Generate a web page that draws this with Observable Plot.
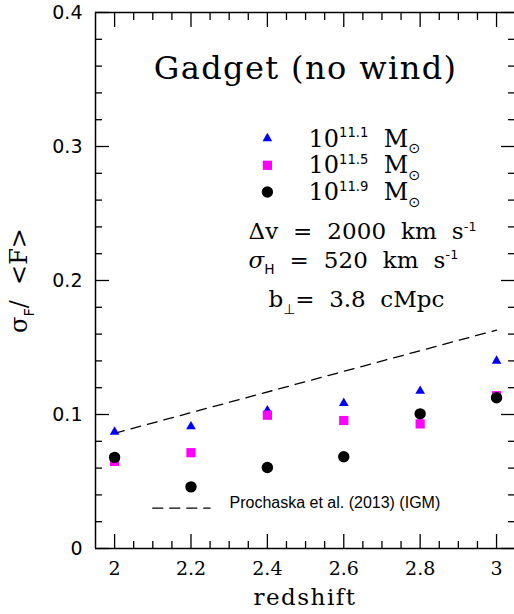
<!DOCTYPE html>
<html><head><meta charset="utf-8">
<script src="https://cdn.jsdelivr.net/npm/d3@7"></script>
<script src="https://cdn.jsdelivr.net/npm/@observablehq/plot@0.6"></script>
<style>
body{margin:0;background:#fff;}
svg text{white-space:pre;}
</style>
</head><body><div id="chart"></div>
<script>
// ---- data ----
const redshift = [2, 2.2, 2.4, 2.6, 2.8, 3];
const sigma111 = [0.087, 0.091, 0.103, 0.1085, 0.1175, 0.140];
const sigma115 = [0.065, 0.0715, 0.0995, 0.0955, 0.093, 0.114];
const sigma119 = [0.068, 0.046, 0.0605, 0.0685, 0.1005, 0.1125];
const seriesNames = ["10^{11.1}  M_{⊙}", "10^{11.5}  M_{⊙}", "10^{11.9}  M_{⊙}"];
const seriesColors = ["#0000ff", "#ff00ff", "#000000"];
const seriesSymbols = ["triangle", "square", "circle"];
const seriesRadius = [3.6, 5.2, 5.7];
const prochaskaZ = [2, 3];
const prochaskaSigma = [0.086, 0.163];
const prochaskaLabel = "Prochaska et al. (2013) (IGM)";
const xMajorTicks = [2, 2.2, 2.4, 2.6, 2.8, 3];
const xTickLabels = ["2", "2.2", "2.4", "2.6", "2.8", "3"];
const xMinorTicks = [2.05,2.1,2.15,2.25,2.3,2.35,2.45,2.5,2.55,2.65,2.7,2.75,2.85,2.9,2.95];
const yMajorTicks = [0, 0.1, 0.2, 0.3, 0.4];
const yTickLabels = ["0", "0.1", "0.2", "0.3", "0.4"];
const yMinorTicks = [0.02,0.04,0.06,0.08,0.12,0.14,0.16,0.18,0.22,0.24,0.26,0.28,0.32,0.34,0.36,0.38];
const titleText = "Gadget (no wind)";
const infoLines = ["Δv  =  2000  km  s^{-1}", "~{σ}_{H}  =  520  km  s^{-1}"];
const impactText = "b_{⊥}=  3.8  cMpc";
const xLabel = "redshift";
const yLabel = "σ_{F}/  <F>";

const series = [sigma111, sigma115, sigma119].map((vals, k) =>
  redshift.map((z, i) => ({z, s: vals[i], k})));
const prochaska = prochaskaZ.map((z, i) => ({z, s: prochaskaSigma[i]}));

const SERIF = "'DejaVu Serif', serif";
const SANS = "'DejaVu Sans', sans-serif";
const tickStyle = {stroke: "black", strokeWidth: 1.3, label: null};

const marks = [
  // frame
  Plot.ruleY([0, 0.4], {stroke: "black", strokeWidth: 1.5}),
  Plot.ruleX([1.95], {stroke: "black", strokeWidth: 1.5}),
  // inward ticks
  ...["bottom", "top"].flatMap(anchor => [
    Plot.axisX({anchor, ticks: xMajorTicks, tickSize: -14, tickFormat: () => "", ...tickStyle}),
    Plot.axisX({anchor, ticks: xMinorTicks, tickSize: -7, tickFormat: () => "", ...tickStyle})
  ]),
  ...["left", "right"].flatMap(anchor => [
    Plot.axisY({anchor, ticks: yMajorTicks, tickSize: -14, tickFormat: () => "", ...tickStyle}),
    Plot.axisY({anchor, ticks: yMinorTicks, tickSize: -7, tickFormat: () => "", ...tickStyle})
  ]),
  // tick labels
  Plot.axisX({anchor: "bottom", ticks: xMajorTicks, tickSize: 0, tickPadding: 13,
    tickFormat: d => xTickLabels[xMajorTicks.indexOf(d)], fontFamily: SERIF, fontSize: 19, label: null}),
  Plot.axisY({anchor: "left", ticks: yMajorTicks, tickSize: 0, tickPadding: 13,
    tickFormat: d => yTickLabels[yMajorTicks.indexOf(d)], fontFamily: SANS, fontSize: 19, label: null}),
  // axis titles
  Plot.text([xLabel], {frameAnchor: "bottom", dy: 56, lineAnchor: "bottom", fontFamily: SERIF, fontSize: 23, fill: "black"}),
  Plot.text([yLabel], {frameAnchor: "left", dx: -76, rotate: -90, textAnchor: "middle", lineAnchor: "middle", fontFamily: SERIF, fontSize: 24, fill: "black"}),
  // Prochaska dashed line
  Plot.line(prochaska, {x: "z", y: "s", stroke: "black", strokeWidth: 1.3, strokeDasharray: "10,7"}),
  // data points
  ...series.map((rows, k) => Plot.dot(rows, {x: "z", y: "s", symbol: seriesSymbols[k], r: seriesRadius[k], fill: seriesColors[k], stroke: "none"})),
  // legend of series
  ...seriesNames.map((name, k) => Plot.dot([name], {x: 2.4, y: 0.306 - 0.02 * k, symbol: seriesSymbols[k], r: seriesRadius[k], fill: seriesColors[k], stroke: "none"})),
  Plot.text(seriesNames, {x: 2.5076, y: (d, i) => 0.3 - 0.02 * i, text: d => d, textAnchor: "start", lineAnchor: "bottom", fontFamily: SERIF, fontSize: 24, fill: "black"}),
  // title & info text
  Plot.text([titleText], {x: 2.5, y: 0.3507, textAnchor: "middle", lineAnchor: "bottom", fontFamily: SERIF, fontSize: 32, fill: "black"}),
  Plot.text(infoLines, {x: 2.3505, y: (d, i) => 0.2306 - 0.0209 * i, text: d => d, textAnchor: "start", lineAnchor: "bottom", fontFamily: SERIF, fontSize: 23, fill: "black"}),
  Plot.text([impactText], {x: 2.4029, y: 0.1799, textAnchor: "start", lineAnchor: "bottom", fontFamily: SERIF, fontSize: 23, fill: "black"}),
  // Prochaska legend
  Plot.line([{z: 2.1, s: 0.0301}, {z: 2.25, s: 0.0301}], {x: "z", y: "s", stroke: "black", strokeWidth: 1.3, strokeDasharray: "10,7"}),
  Plot.text([prochaskaLabel], {x: 2.3008, y: 0.0299, textAnchor: "start", lineAnchor: "bottom", fontFamily: "'Liberation Sans', Arial, sans-serif", fontSize: 16, fill: "black"})
];

const chart = Plot.plot({
  width: 514,
  height: 614,
  marginLeft: 95,
  marginRight: 0,
  marginTop: 12,
  marginBottom: 66,
  x: {domain: [1.95, 3.047]},
  y: {domain: [0, 0.4]},
  style: {background: "white", fontFamily: SERIF, overflow: "visible", color: "black"},
  marks
});
document.getElementById("chart").appendChild(chart);

// letter spacing for specific labels
const spacing = new Map([[titleText, 1.4], [xLabel, 1.5], [infoLines[0], 0.1], [infoLines[1], 0.1]]);
chart.querySelectorAll("text").forEach(t => {
  const sp = spacing.get(t.textContent);
  if (sp != null) t.style.letterSpacing = sp + "px";
});

// rich text: ^{sup}, _{sub}, ~{italic}
function richify(root) {
  root.querySelectorAll("text").forEach(t => {
    const s = t.textContent;
    if (!/[\^_~]\{/.test(s)) return;
    const fs = parseFloat(getComputedStyle(t).fontSize) || 20;
    const re = /([\^_~])\{([^}]*)\}/g;
    const parts = [];
    let last = 0, m;
    while ((m = re.exec(s))) {
      if (m.index > last) parts.push({type: "n", text: s.slice(last, m.index)});
      parts.push({type: m[1], text: m[2]});
      last = re.lastIndex;
    }
    if (last < s.length) parts.push({type: "n", text: s.slice(last)});
    t.textContent = "";
    let off = 0;
    const NS = "http://www.w3.org/2000/svg";
    parts.forEach(p => {
      const ts = document.createElementNS(NS, "tspan");
      let target = 0;
      if (p.type === "^") {
        target = -0.38 * fs;
        ts.setAttribute("font-size", (0.55 * fs).toFixed(1));
        ts.setAttribute("font-family", SANS);
      } else if (p.type === "_") {
        target = 0.28 * fs;
        ts.setAttribute("font-size", (0.6 * fs).toFixed(1));
        ts.setAttribute("font-family", SANS);
      } else if (p.type === "~") {
        ts.setAttribute("font-style", "italic");
      }
      const dy = target - off;
      if (dy !== 0) ts.setAttribute("dy", dy.toFixed(2));
      off = target;
      ts.textContent = p.text;
      t.appendChild(ts);
    });
  });
}
richify(chart);
</script>
</body></html>
